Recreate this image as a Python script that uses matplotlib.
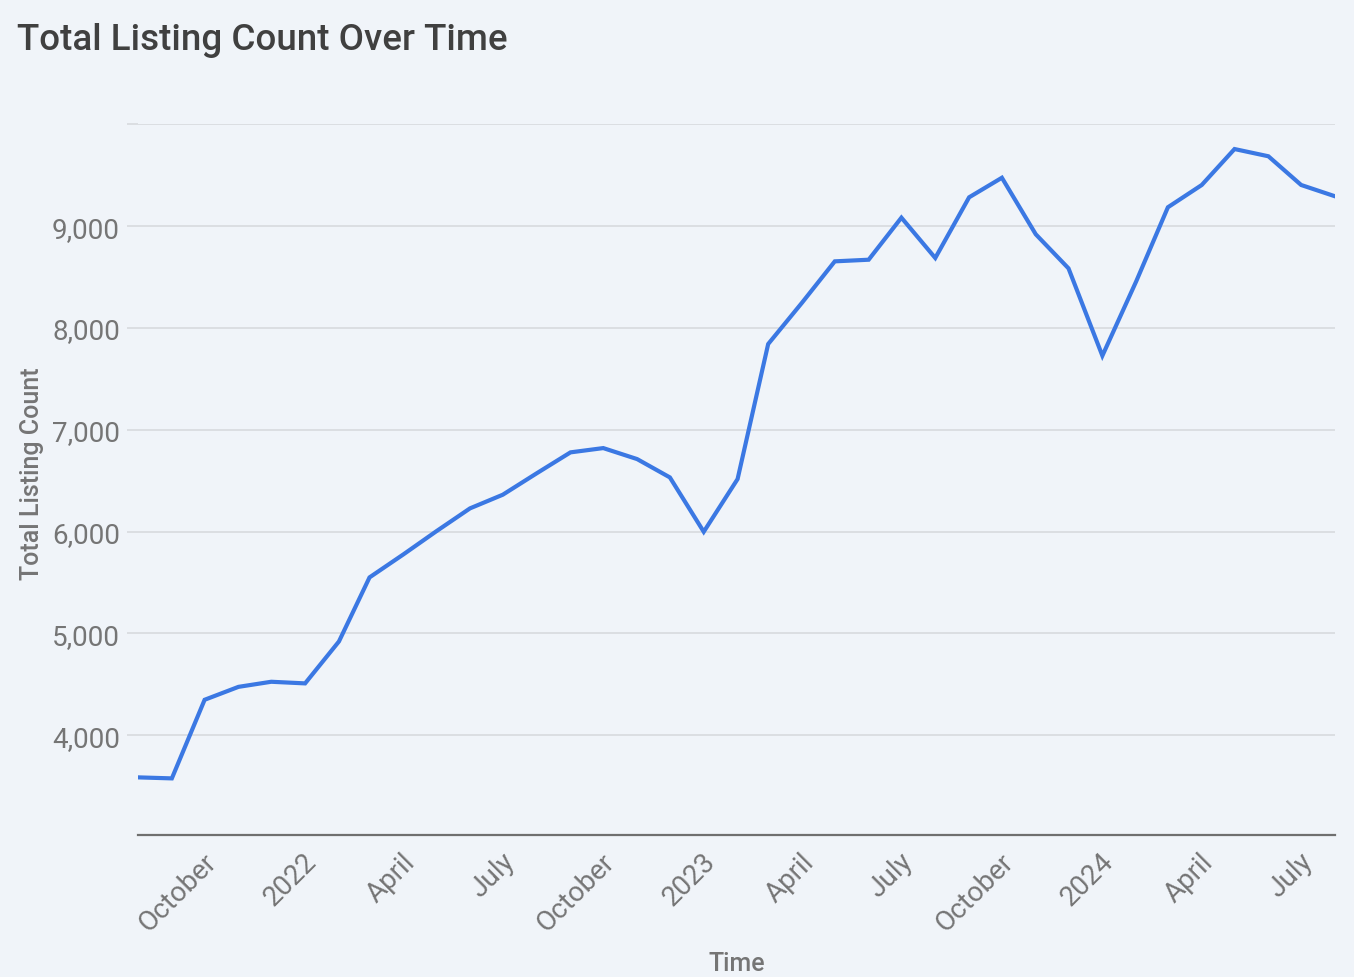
import matplotlib
matplotlib.use("Agg")
import matplotlib.pyplot as plt
from matplotlib.transforms import ScaledTranslation
import pandas as pd

# ---- data ----
months = pd.date_range("2021-08-01", periods=37, freq="MS")
listing_count = [3586, 3576, 4348, 4475, 4525, 4509, 4921, 5550, 5776, 6002,
                 6228, 6362, 6572, 6778, 6820, 6712, 6532, 5998, 6516, 7842,
                 8248, 8654, 8670, 9083, 8687, 9283, 9475, 8920, 8585, 7727,
                 8458, 9185, 9404, 9757, 9686, 9404, 9293]
tick_dates = ["2021-10-01", "2022-01-01", "2022-04-01", "2022-07-01",
              "2022-10-01", "2023-01-01", "2023-04-01", "2023-07-01",
              "2023-10-01", "2024-01-01", "2024-04-01", "2024-07-01"]
tick_labels = ["October", "2022", "April", "July", "October", "2023",
               "April", "July", "October", "2024", "April", "July"]
y_ticks = [4000, 5000, 6000, 7000, 8000, 9000, 10000]
y_tick_labels = ["4,000", "5,000", "6,000", "7,000", "8,000", "9,000", ""]

FONT = ["Roboto", "DejaVu Sans"]
plt.rcParams["font.family"] = FONT

BG = "#f0f4f9"
GRID = "#d5d8dc"
TXT = "#757575"
LINE = "#3b78e3"

W, H = 1354, 978
fig = plt.figure(figsize=(W / 100, H / 100), dpi=100, facecolor=BG)
ax = fig.add_axes([138 / W, 1 - 836 / H, (1335 - 138) / W, (836 - 125.3) / H])
ax.set_facecolor(BG)

ax.plot(months, listing_count, color=LINE, lw=3.0, solid_joinstyle="miter", zorder=3)

ax.set_xlim(pd.Timestamp("2021-08-01"), pd.Timestamp("2024-08-01"))
ax.set_ylim(3020, 10000)

ax.set_yticks(y_ticks)
ax.set_yticklabels(y_tick_labels)
ax.yaxis.grid(True, color=GRID, lw=1.1, zorder=0)
ax.tick_params(axis="y", length=8, width=1.1, color=GRID, pad=5,
               labelsize=20, labelcolor=TXT)

ax.set_xticks(pd.to_datetime(tick_dates))
ax.set_xticklabels(tick_labels, rotation=45, ha="right", va="top",
                   rotation_mode="anchor")
ax.tick_params(axis="x", length=0, pad=9, labelsize=20, labelcolor=TXT)
off = ScaledTranslation(-2 / 100, 0, fig.dpi_scale_trans)
for lab in ax.get_xticklabels():
    lab.set_transform(lab.get_transform() + off)

for s in ["top", "right", "left"]:
    ax.spines[s].set_visible(False)
ax.spines["bottom"].set_color("#6f6f6f")
ax.spines["bottom"].set_linewidth(1.6)
ax.spines["bottom"].set_zorder(4)

ax.set_xlabel("Time", fontsize=18, color=TXT, fontweight="medium")
ax.xaxis.set_label_coords((737 - 138) / (1335 - 138), (836 - 952) / (836 - 125.3))
ax.set_ylabel("Total Listing Count", fontsize=18, color=TXT, fontweight="medium")
ax.yaxis.set_label_coords((44 - 138) / (1335 - 138), (836 - 474) / (836 - 125.3))

fig.text(17 / W, 1 - 50 / H, "Total Listing Count Over Time", fontsize=26.5,
         color="#404040", fontweight="medium", ha="left", va="baseline")

fig.savefig("out.png", dpi=100, facecolor=BG)
